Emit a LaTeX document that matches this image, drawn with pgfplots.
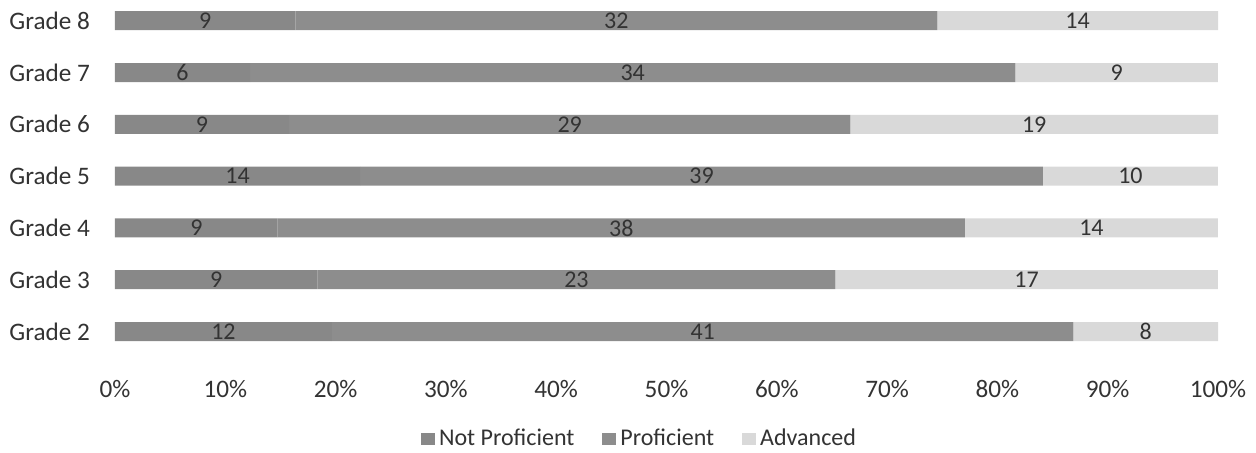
\documentclass[border=0pt]{standalone}
\usepackage{pgfplots}
\usepackage{pgfplotstable}
\pgfplotsset{compat=1.18}
\usepackage{fontspec}
\setmainfont{Carlito}
\definecolor{cNP}{HTML}{888888}
\definecolor{cP}{HTML}{8D8D8D}
\definecolor{cA}{HTML}{D9D9D9}
\definecolor{ctxt}{HTML}{333333}
\pgfplotstableread{
g np p a
0 12 41 8
1 9 23 17
2 9 38 14
3 14 39 10
4 9 29 19
5 6 34 9
6 9 32 14
}\grades
\begin{document}
\begin{tikzpicture}[font=\fontsize{12}{14}\selectfont]
\begin{axis}[
  scale only axis,
  width=551.5pt, height=181.3pt,
  xbar stacked, bar width=9.5pt,
  xmin=0, xmax=100, ymin=-0.6, ymax=6.4,
  axis line style={draw=none},
  xtick={0,10,...,100},
  xticklabel={\pgfmathprintnumber{\tick}\%},
  ytick={0,...,6},
  yticklabels={Grade 2,Grade 3,Grade 4,Grade 5,Grade 6,Grade 7,Grade 8},
  major tick length=0pt,
  tick style={draw=none},
  tick label style={text=ctxt, font=\fontsize{12.6}{14}\selectfont},
  xticklabel style={yshift=-5.5pt},
  yticklabel style={xshift=-9pt},
  /pgf/number format/assume math mode=true,
  clip=false,
  nodes near coords,
  point meta=explicit,
  every node near coord/.append style={anchor=center, text=ctxt},
  legend columns=3,
  legend style={draw=none, at={(0.5,0)}, anchor=center, yshift=-38pt, xshift=-13pt, text=ctxt,
    inner sep=0pt,
    /tikz/every even column/.append style={column sep=12pt}},
  legend image code/.code={\fill[#1] (0pt,-3pt) rectangle (7pt,3pt);},
]
\addplot[fill=cNP, draw=none]
  table[x expr={\thisrow{np}/(\thisrow{np}+\thisrow{p}+\thisrow{a})*100}, y=g, meta=np] {\grades};
\addplot[fill=cP, draw=none]
  table[x expr={\thisrow{p}/(\thisrow{np}+\thisrow{p}+\thisrow{a})*100}, y=g, meta=p] {\grades};
\addplot[fill=cA, draw=none]
  table[x expr={\thisrow{a}/(\thisrow{np}+\thisrow{p}+\thisrow{a})*100}, y=g, meta=a] {\grades};
\legend{Not Proficient, Proficient, Advanced}
\end{axis}
\path ([shift={(-57.5pt,-45pt)}]current axis.south west) rectangle ([shift={(19pt,0pt)}]current axis.north east);
\end{tikzpicture}
\end{document}
